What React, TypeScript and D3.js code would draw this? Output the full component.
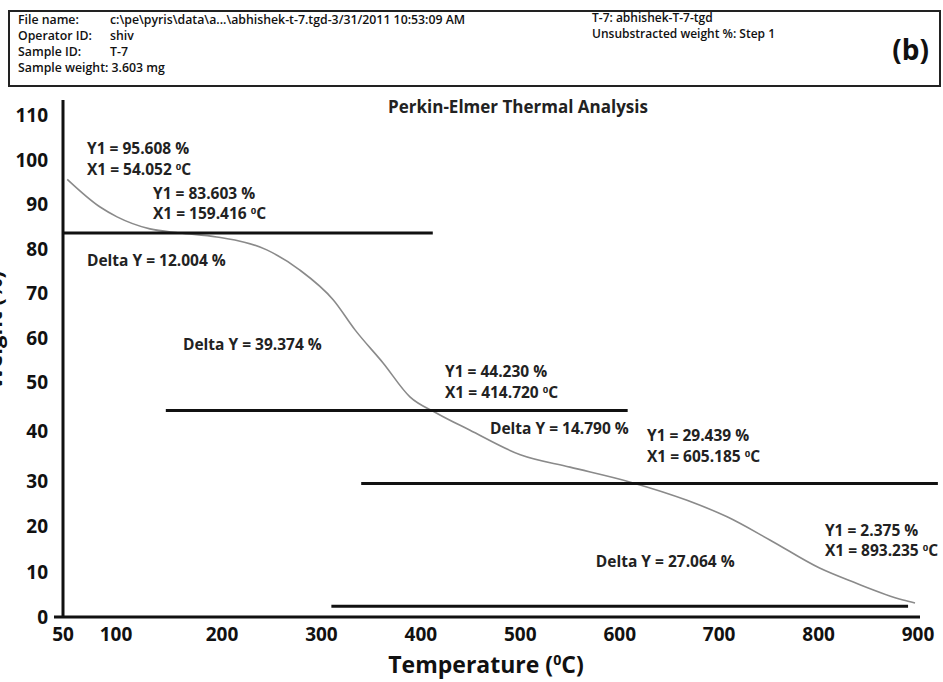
import React from "react";
import * as d3 from "d3";

// ---- data ----
const tempC = [54, 85, 101, 132, 160, 195, 245, 278, 312, 334, 362, 389, 416, 449, 500, 550, 610, 667, 708, 751, 801, 835, 885, 897];
const weightPct = [95.6, 89.4, 87.2, 84.5, 83.6, 82.7, 79.8, 75.3, 68.5, 61.7, 54.3, 47.0, 43.7, 40.3, 35.3, 32.8, 29.8, 25.8, 22.1, 17.0, 10.8, 7.7, 3.75, 3.1];

const xTicks = [50, 100, 200, 300, 400, 500, 600, 700, 800, 900];
const yTicks = [0, 10, 20, 30, 40, 50, 60, 70, 80, 90, 100, 110];

// horizontal step lines (Y1 level, from T, to T)
const stepLevel = [83.603, 44.23, 29.439, 2.375];
const stepFrom = [50, 147, 340, 310];
const stepTo = [412, 608, 920, 890];

// annotations: text lines, anchored in data units (left, baseline)
const annoText = [
  "Y1 = 95.608 %", "X1 = 54.052 |C",
  "Y1 = 83.603 %", "X1 = 159.416 |C",
  "Delta Y = 12.004 %",
  "Delta Y = 39.374 %",
  "Y1 = 44.230 %", "X1 = 414.720 |C",
  "Delta Y = 14.790 %",
  "Y1 = 29.439 %", "X1 = 605.185 |C",
  "Y1 = 2.375 %", "X1 = 893.235 |C",
  "Delta Y = 27.064 %",
];
const annoT = [72.6, 72.6, 134.9, 134.9, 72.6, 163.2, 424.3, 424.3, 469.5, 627.4, 627.4, 806.4, 806.4, 576.0];
const annoW = [101.3, 96.6, 91.2, 86.7, 76.2, 57.2, 51.1, 46.8, 39.5, 38.1, 33.8, 17.9, 13.5, 11.0];

const headerLeftLabels = ["File name:", "Operator ID:", "Sample ID:", "Sample weight: 3.603  mg"];
const headerLeftValues = ["c:\\pe\\pyris\\data\\a...\\abhishek-t-7.tgd-3/31/2011  10:53:09 AM", "shiv", "T-7", ""];
const headerRight = ["T-7: abhishek-T-7-tgd", "Unsubstracted weight %: Step 1"];

const W = 943;
const H = 682;
const FONT = "'Open Sans', 'DejaVu Sans', sans-serif";

function Degree({ text }: { text: string }) {
  const parts = text.split("|");
  if (parts.length === 1) return <>{text}</>;
  return (
    <>
      {parts[0]}
      <tspan fontSize="0.62em" dy="-0.55em">0</tspan>
      <tspan dy="0.34em">{parts[1]}</tspan>
    </>
  );
}

export default function App() {
  const left = 63;
  const right = 918;
  const bottom = 617;
  const top = 100;

  const x = d3.scaleLinear().domain([50, 200, 900]).range([left, 222, right]);
  const y = d3.scaleLinear().domain([0, 30, 50, 80, 110]).range([bottom, 481, 382, 249, 115]);

  const pts = tempC.map((t, i) => [t, weightPct[i]] as [number, number]);
  const line = d3
    .line<[number, number]>()
    .x((d) => x(d[0]))
    .y((d) => y(d[1]))
    .curve(d3.curveMonotoneX);

  return (
    <svg
      width={W}
      height={H}
      viewBox={`0 0 ${W} ${H}`}
      style={{ position: "absolute", left: 0, top: 0, background: "#fff", fontFamily: FONT }}
    >
      <rect x={0} y={0} width={W} height={H} fill="#fff" />
      {/* header box */}
      <rect x={9} y={11} width={931} height={75} fill="none" stroke="#222" strokeWidth={2} />
      <g fontSize={12.3} fontWeight={600} fill="#111">
        {headerLeftLabels.map((s, i) => (
          <text key={"hl" + i} x={18} y={23.5 + i * 16.3}>{s}</text>
        ))}
        {headerLeftValues.map((s, i) => (
          <text key={"hv" + i} x={110} y={23.5 + i * 16.3}>{s}</text>
        ))}
        {headerRight.map((s, i) => (
          <text key={"hr" + i} x={592} y={21.5 + i * 16} fontSize={12}>{s}</text>
        ))}
      </g>
      <text x={929} y={60} textAnchor="end" fontSize={28} fontWeight={700} fill="#111">(b)</text>

      {/* title */}
      <text x={518} y={112.5} textAnchor="middle" fontSize={17} fontWeight={700} fill="#222">
        Perkin-Elmer Thermal Analysis
      </text>

      {/* y axis label (clipped at left edge, as in the original) */}
      <text
        transform={`translate(2, ${330}) rotate(-90)`}
        textAnchor="middle"
        fontSize={22}
        fontWeight={700}
        fill="#111"
      >
        Weight (%)
      </text>

      {/* curve */}
      <path d={line(pts) ?? ""} fill="none" stroke="#8a8a8a" strokeWidth={1.6} />

      {/* step lines */}
      {stepLevel.map((v, i) => (
        <line
          key={"s" + i}
          x1={x(stepFrom[i])}
          x2={x(stepTo[i])}
          y1={y(v)}
          y2={y(v)}
          stroke="#111"
          strokeWidth={3}
        />
      ))}

      {/* axes */}
      <line x1={left} x2={left} y1={top} y2={bottom + 1} stroke="#111" strokeWidth={3} />
      <line x1={54} x2={920} y1={bottom} y2={bottom} stroke="#111" strokeWidth={3} />

      {/* y ticks */}
      <g fontSize={19} fontWeight={700} fill="#111">
        {yTicks.map((t) => (
          <text key={"y" + t} x={48} y={y(t)} dy="0.36em" textAnchor="end">{t}</text>
        ))}
      </g>
      {/* x ticks */}
      <g fontSize={19} fontWeight={700} fill="#111">
        {xTicks.map((t) => (
          <text key={"x" + t} x={x(t)} y={641} textAnchor="middle">{t}</text>
        ))}
      </g>

      {/* x axis title */}
      <text x={486} y={673} textAnchor="middle" fontSize={23} fontWeight={700} fill="#111">
        <Degree text="Temperature (|C)" />
      </text>

      {/* annotations */}
      <g fontSize={15.5} fontWeight={700} fill="#222">
        {annoText.map((s, i) => (
          <text key={"a" + i} x={x(annoT[i])} y={y(annoW[i])}>
            <Degree text={s} />
          </text>
        ))}
      </g>
    </svg>
  );
}
